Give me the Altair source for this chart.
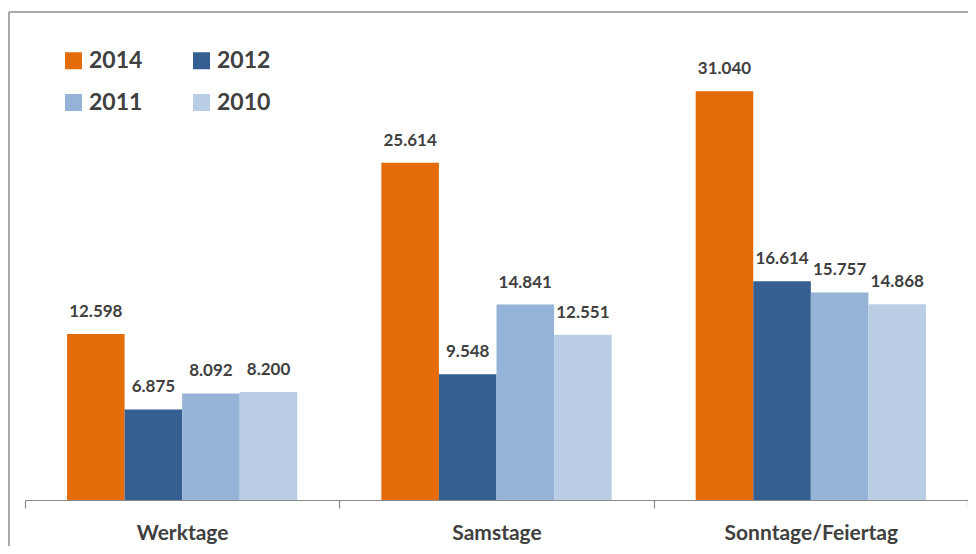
import altair as alt
import pandas as pd

categories = ["Werktage", "Samstage", "Sonntage/Feiertag"]
years = ["2014", "2012", "2011", "2010"]
v2014 = [12598, 25614, 31040]
v2012 = [6875, 9548, 16614]
v2011 = [8092, 14841, 15757]
v2010 = [8200, 12551, 14868]
colors = ["#E46C0A", "#365F91", "#95B3D7", "#B9CDE5"]

rows = []
for yr, vals in zip(years, [v2014, v2012, v2011, v2010]):
    for c, v in zip(categories, vals):
        rows.append({"cat": c, "year": yr, "value": v,
                     "label": f"{v:,}".replace(",", ".")})
df = pd.DataFrame(rows)

FONT = "Lato"
W, H = 943, 461

x = alt.X("cat:N", sort=categories, title=None,
          scale=alt.Scale(paddingInner=0, paddingOuter=0),
          axis=alt.Axis(tickBand="extent", labelAngle=0, labelFont=FONT,
                        labelFontSize=21, labelFontWeight="bold",
                        labelColor="#404040", domainColor="#888888",
                        tickColor="#888888", tickSize=8, labelPadding=14,
                        domainWidth=1.2, tickWidth=1.2))
xo = alt.XOffset("year:N", sort=years,
                 scale=alt.Scale(paddingInner=0, paddingOuter=0.73))
y = alt.Y("value:Q", scale=alt.Scale(domain=[0, 35000]), axis=None)

bars = alt.Chart(df).mark_bar().encode(
    x=x, xOffset=xo, y=y,
    color=alt.Color("year:N", sort=years,
                    scale=alt.Scale(domain=years, range=colors),
                    legend=alt.Legend(title=None, orient="none", legendX=37,
                                      legendY=10, columns=2,
                                      direction="horizontal",
                                      symbolType="square", symbolSize=289,
                                      symbolStrokeWidth=0, labelFont=FONT,
                                      labelFontSize=23, labelFontWeight="bold",
                                      labelColor="#404040", labelOffset=4,
                                      columnPadding=47, rowPadding=18)),
)

text = alt.Chart(df).mark_text(baseline="bottom", dy=-13, font=FONT,
                               fontSize=17, fontWeight="bold",
                               color="#404040").encode(
    x=x, xOffset=xo, y=y, text="label:N")

one = pd.DataFrame({"a": [0]})
frame_top = alt.Chart(one).mark_rule(color="#8c8c8c", strokeWidth=1.5).encode(
    x=alt.value(-16), x2=alt.value(1000), y=alt.value(-27))
frame_left = alt.Chart(one).mark_rule(color="#8c8c8c", strokeWidth=1.5).encode(
    x=alt.value(-16), y=alt.value(-27), y2=alt.value(600))

chart = alt.layer(frame_top, frame_left, bars, text).properties(
    width=W, height=H,
    autosize=alt.AutoSizeParams(type="none"),
    padding={"left": 17, "top": 31, "right": 0, "bottom": 46},
).configure_view(stroke=None)

chart.save("out.html", embed_options={"renderer": "svg", "actions": False})
